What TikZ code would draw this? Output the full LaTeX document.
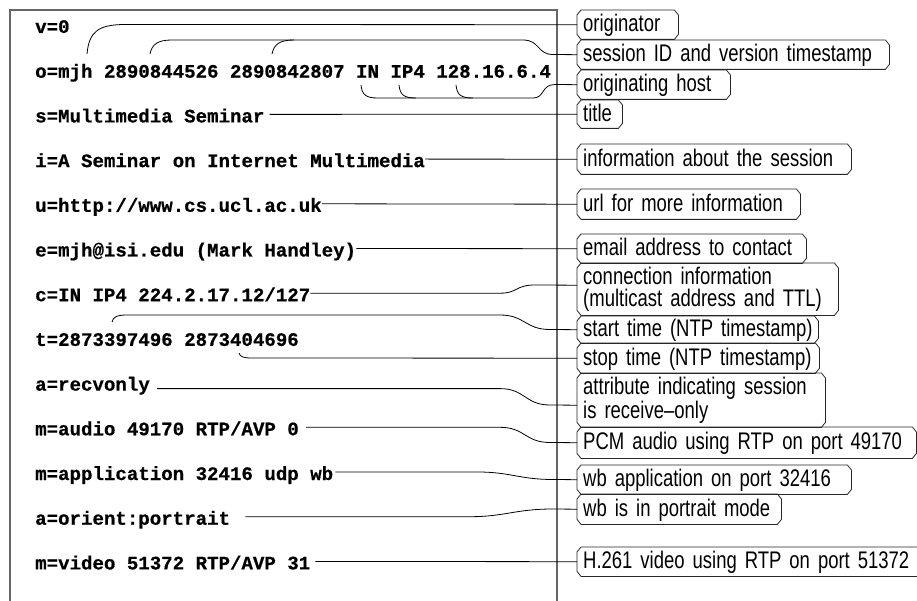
\documentclass[tikz,border=0pt]{standalone}
\usepackage{fontspec}
\newfontfamily\sdpfont{Liberation Mono}[BoldFeatures={FakeBold=0.6}]
\newfontfamily\lblfont{Liberation Sans}[FakeStretch=0.77,WordSpace=0.75]
\newcommand\chbox[1]{\draw[chamf] ([yshift=-5pt]#1.north west) -- ([xshift=4pt]#1.north west) -- ([xshift=-4pt]#1.north east) -- ([yshift=-5pt]#1.north east) -- ([yshift=5pt]#1.south east) -- ([xshift=-4pt]#1.south east) -- ([xshift=4pt]#1.south west) -- ([yshift=5pt]#1.south west) -- cycle;}
\newcommand\lline[1]{\mbox{#1}}
\begin{document}
\begin{tikzpicture}[x=1pt,y=-1pt,
  sdp/.style={font={\sdpfont\bfseries\fontsize{19.1}{22}\selectfont}, anchor=base west, inner sep=0pt, text height=19pt, text depth=3pt},
  lbl/.style={font={\lblfont\fontsize{24}{22}\selectfont}, anchor=north west, inner xsep=6pt, inner ysep=0pt, align=left},
  one/.style={text height=18pt, text depth=4pt},
  con/.style={draw=black, line width=0.8pt},
  frame/.style={draw=black!60, line width=1.2pt},
  chamf/.style={draw=black!85, line width=0.8pt}]
\useasboundingbox (0,0) rectangle (917,601);
\clip (0,0) rectangle (917,601);

% frame
\draw[frame] (10,601) -- (10,10) -- (557,10) -- (557,601);

% SDP lines
\node[sdp] (t0) at (35,33) {v=0};
\node[sdp] (t1) at (35,77.7) {o=mjh 2890844526 2890842807 IN IP4 128.16.6.4};
\node[sdp] (t2) at (35,122.4) {s=Multimedia Seminar};
\node[sdp] (t3) at (35,167.1) {i=A Seminar on Internet Multimedia};
\node[sdp] (t4) at (35,211.8) {u=http://www.cs.ucl.ac.uk};
\node[sdp] (t5) at (35,256.5) {e=mjh@isi.edu (Mark Handley)};
\node[sdp] (t6) at (35,301.2) {c=IN IP4 224.2.17.12/127};
\node[sdp] (t7) at (35,345.9) {t=2873397496 2873404696};
\node[sdp] (t8) at (35,390.6) {a=recvonly};
\node[sdp] (t9) at (35,435.3) {m=audio 49170 RTP/AVP 0};
\node[sdp] (t10) at (35,480) {m=application 32416 udp wb};
\node[sdp] (t11) at (35,524.7) {a=orient:portrait};
\node[sdp] (t12) at (35,569.4) {m=video 51372 RTP/AVP 31};

% labels
\node[lbl,one,minimum height=29pt,text width=89pt] (l0) at (577,10) {\lline{originator}};
\node[lbl,one,minimum height=29pt,text width=300pt] (l1) at (577,40) {\lline{session ID and version timestamp}};
\node[lbl,one,minimum height=29pt,text width=141pt] (l2) at (577,70) {\lline{originating host}};
\node[lbl,one,minimum height=28pt,text width=33pt] (l3) at (577,100) {\lline{title}};
\node[lbl,one,minimum height=30pt,text width=262pt] (l4) at (577,144) {\lline{information about the session}};
\node[lbl,one,minimum height=30pt,text width=211pt] (l5) at (577,189) {\lline{url for more information}};
\node[lbl,one,minimum height=29pt,text width=217pt] (l6) at (577,234) {\lline{email address to contact}};
\node[lbl,minimum height=52pt,text width=249pt] (l7) at (577,263) {\lline{connection information}\\\lline{(multicast address and TTL)}};
\node[lbl,one,minimum height=27pt,text width=229pt] (l8) at (577,316) {\lline{start time (NTP timestamp)}};
\node[lbl,one,minimum height=30pt,text width=230pt] (l9) at (577,343) {\lline{stop time (NTP timestamp)}};
\node[lbl,minimum height=54pt,text width=236pt] (l10) at (577,373) {\lline{attribute indicating session}\\\lline{is receive–only}};
\node[lbl,one,minimum height=31pt,text width=327pt] (l11) at (577,427) {\lline{PCM audio using RTP on port 49170}};
\node[lbl,one,minimum height=29pt,text width=262pt] (l12) at (577,465) {\lline{wb application on port 32416}};
\node[lbl,one,minimum height=30pt,text width=192pt] (l13) at (577,494) {\lline{wb is in portrait mode}};
\node[lbl,one,minimum height=29pt,text width=333pt] (l14) at (577,547) {\lline{H.261 video using RTP on port 51372}};
\foreach \n in {l0,l1,l2,l3,l4,l5,l6,l7,l8,l9,l10,l11,l12,l13,l14} {\chbox{\n}}

% hook points
\coordinate (h0) at (87,54);
\coordinate (h1a) at (150,54);
\coordinate (h1b) at (272,54);
\coordinate (h2a) at (361,85);
\coordinate (h2b) at (399,85);
\coordinate (h2c) at (456,85);
\coordinate (h7a) at (112,322);
\coordinate (h7b) at (239,353);

% connectors
\draw[con] (h0) .. controls (89,32) and (98,24.5) .. (125,24.5) -- (l0.west);
\draw[con] (h1a) .. controls (152,44) and (158,40) .. (172,40) -- (523,40) .. controls (540,40) and (537,54.5) .. (553,54.5) -- (l1.west);
\draw[con] (h1b) .. controls (274,44) and (280,40) .. (294,40);
\draw[con] (h2a) .. controls (362,95) and (366,98) .. (378,98) -- (533,98) .. controls (545,98) and (541,84.5) .. (555,84.5) -- (l2.west);
\draw[con] (h2b) .. controls (400,95) and (404,98) .. (416,98);
\draw[con] (h2c) .. controls (457,95) and (461,98) .. (473,98);
\draw[con] ([xshift=5pt]t2.east) -- (l3.west);
\draw[con] (t3.east) -- (l4.west);
\draw[con] (t4.east) -- (l5.west);
\draw[con] (t5.east) -- (l6.west);
\draw[con] (t6.east) -- (500,293.2) .. controls (518,293.2) and (515,285) .. (535,285) -- ([yshift=4pt]l7.west);
\draw[con] (h7a) .. controls (113,317) and (117,315) .. (127,315) -- (500,315) .. controls (525,315) and (525,329.5) .. (550,329.5) -- (l8.west);
\draw[con] (h7b) .. controls (240,357) and (244,358) .. (252,358) -- (l9.west);
\draw[con] ([xshift=7pt,yshift=-6pt]t8.east) -- (500,388.6) .. controls (525,388.6) and (525,405) .. (550,405) -- ([yshift=-5pt]l10.west);
\draw[con] ([xshift=7pt]t9.east) -- (500,427.3) .. controls (525,427.3) and (525,442.5) .. (550,442.5) -- (l11.west);
\draw[con] ([xshift=2pt]t10.east) -- (478,472) .. controls (510,472) and (520,479.5) .. (553,479.5) -- (l12.west);
\draw[con] ([xshift=15pt]t11.east) -- (470,516.7) .. controls (505,516.7) and (515,509) .. (553,509) -- (l13.west);
\draw[con] ([xshift=5pt]t12.east) -- (l14.west);
\end{tikzpicture}
\end{document}
